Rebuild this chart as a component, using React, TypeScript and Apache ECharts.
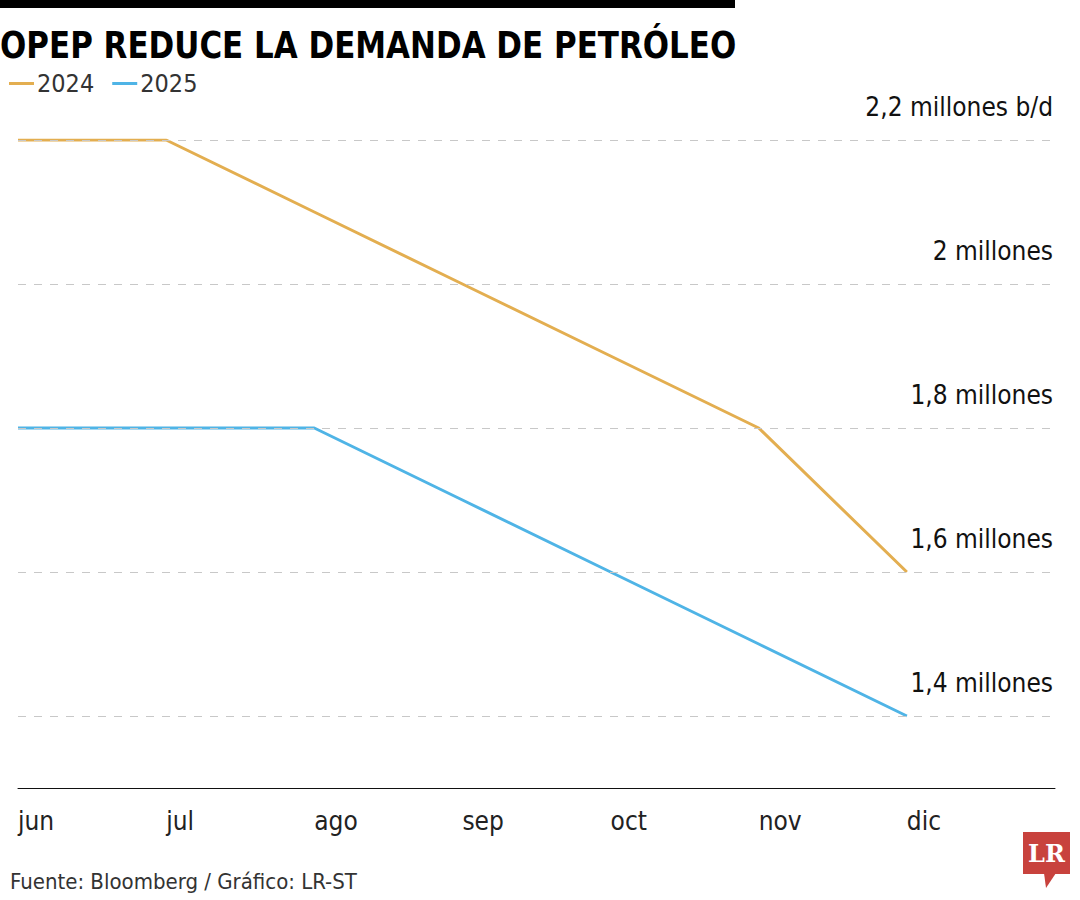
import React, { useEffect, useRef } from "react";
import * as echarts from "echarts";

const months = ["jun", "jul", "ago", "sep", "oct", "nov", "dic", ""];
const demand2024 = [2.2, 2.2, 2.1, 2.0, 1.9, 1.8, 1.6];
const demand2025 = [1.8, 1.8, 1.8, 1.7, 1.6, 1.5, 1.4];
const gridValues = [2.2, 2.0, 1.8, 1.6, 1.4];
const gridLabels = ["2,2 millones b/d", "2 millones", "1,8 millones", "1,6 millones", "1,4 millones"];

const FONT = "'DejaVu Sans Condensed', 'DejaVu Sans', sans-serif";

export default function App() {
  const ref = useRef<HTMLDivElement>(null);
  useEffect(() => {
    document.body.style.margin = "0";
    const chart = echarts.init(ref.current!, null, { renderer: "svg" });
    chart.setOption({
      animation: false,
      backgroundColor: "#ffffff",
      textStyle: { fontFamily: FONT },
      grid: { left: 18, top: 140, right: 25, bottom: 112 },
      legend: {
        left: 4,
        top: 66,
        icon: "rect",
        itemWidth: 25,
        itemHeight: 3,
        itemGap: 18,
        textStyle: { fontSize: 25, color: "#333", fontFamily: FONT, padding: [0, 0, 0, -2] },
        data: ["2024", "2025"],
      },
      xAxis: {
        type: "category",
        data: months,
        boundaryGap: false,
        axisLine: { show: true, lineStyle: { color: "#111", width: 1 } },
        axisTick: { show: false },
        axisLabel: { fontSize: 26, color: "#222", align: "left", margin: 20, fontFamily: FONT },
        splitLine: { show: false },
      },
      yAxis: {
        type: "value",
        min: 1.3,
        max: 2.2,
        axisLine: { show: false },
        axisTick: { show: false },
        axisLabel: { show: false },
        splitLine: { show: false },
      },
      series: [
        {
          name: "2024",
          type: "line",
          data: demand2024,
          symbol: "none",
          lineStyle: { color: "#E3AE50", width: 3 },
          itemStyle: { color: "#E3AE50" },
          z: 3,
          markLine: {
            silent: true,
            symbol: "none",
            lineStyle: { color: "#c8c8c8", width: 1, type: [8, 8] },
            label: {
              position: "insideEndTop",
              fontSize: 26,
              color: "#111",
              fontFamily: FONT,
              distance: [2, 20],
            },
            data: gridValues.map((v, i) => ({ yAxis: v, label: { formatter: gridLabels[i] } })),
          },
        },
        {
          name: "2025",
          type: "line",
          data: demand2025,
          symbol: "none",
          lineStyle: { color: "#4FB4E6", width: 3 },
          itemStyle: { color: "#4FB4E6" },
          z: 3,
        },
      ],
      graphic: [
        { type: "rect", shape: { x: 0, y: 0, width: 735, height: 8 }, style: { fill: "#000" } },
        {
          type: "text",
          x: 0,
          y: 27,
          scaleX: 0.93,
          style: { text: "OPEP REDUCE LA DEMANDA DE PETRÓLEO", font: `bold 37px ${FONT}`, fill: "#000" },
        },
        {
          type: "text",
          x: 10,
          y: 870,
          style: { text: "Fuente: Bloomberg / Gráfico: LR-ST", font: `22px ${FONT}`, fill: "#333" },
        },
        { type: "rect", shape: { x: 1023, y: 832, width: 47, height: 42 }, style: { fill: "#C8423D" } },
        { type: "polygon", shape: { points: [[1044, 873], [1056, 873], [1046, 888]] }, style: { fill: "#C8423D" } },
        {
          type: "text",
          x: 1046.5,
          y: 853,
          style: { text: "LR", font: "bold 24px 'DejaVu Serif', 'Liberation Serif', serif", fill: "#fff", align: "center", verticalAlign: "middle" },
        },
      ],
    });
    return () => chart.dispose();
  }, []);
  return <div ref={ref} style={{ width: 1080, height: 900 }} />;
}
